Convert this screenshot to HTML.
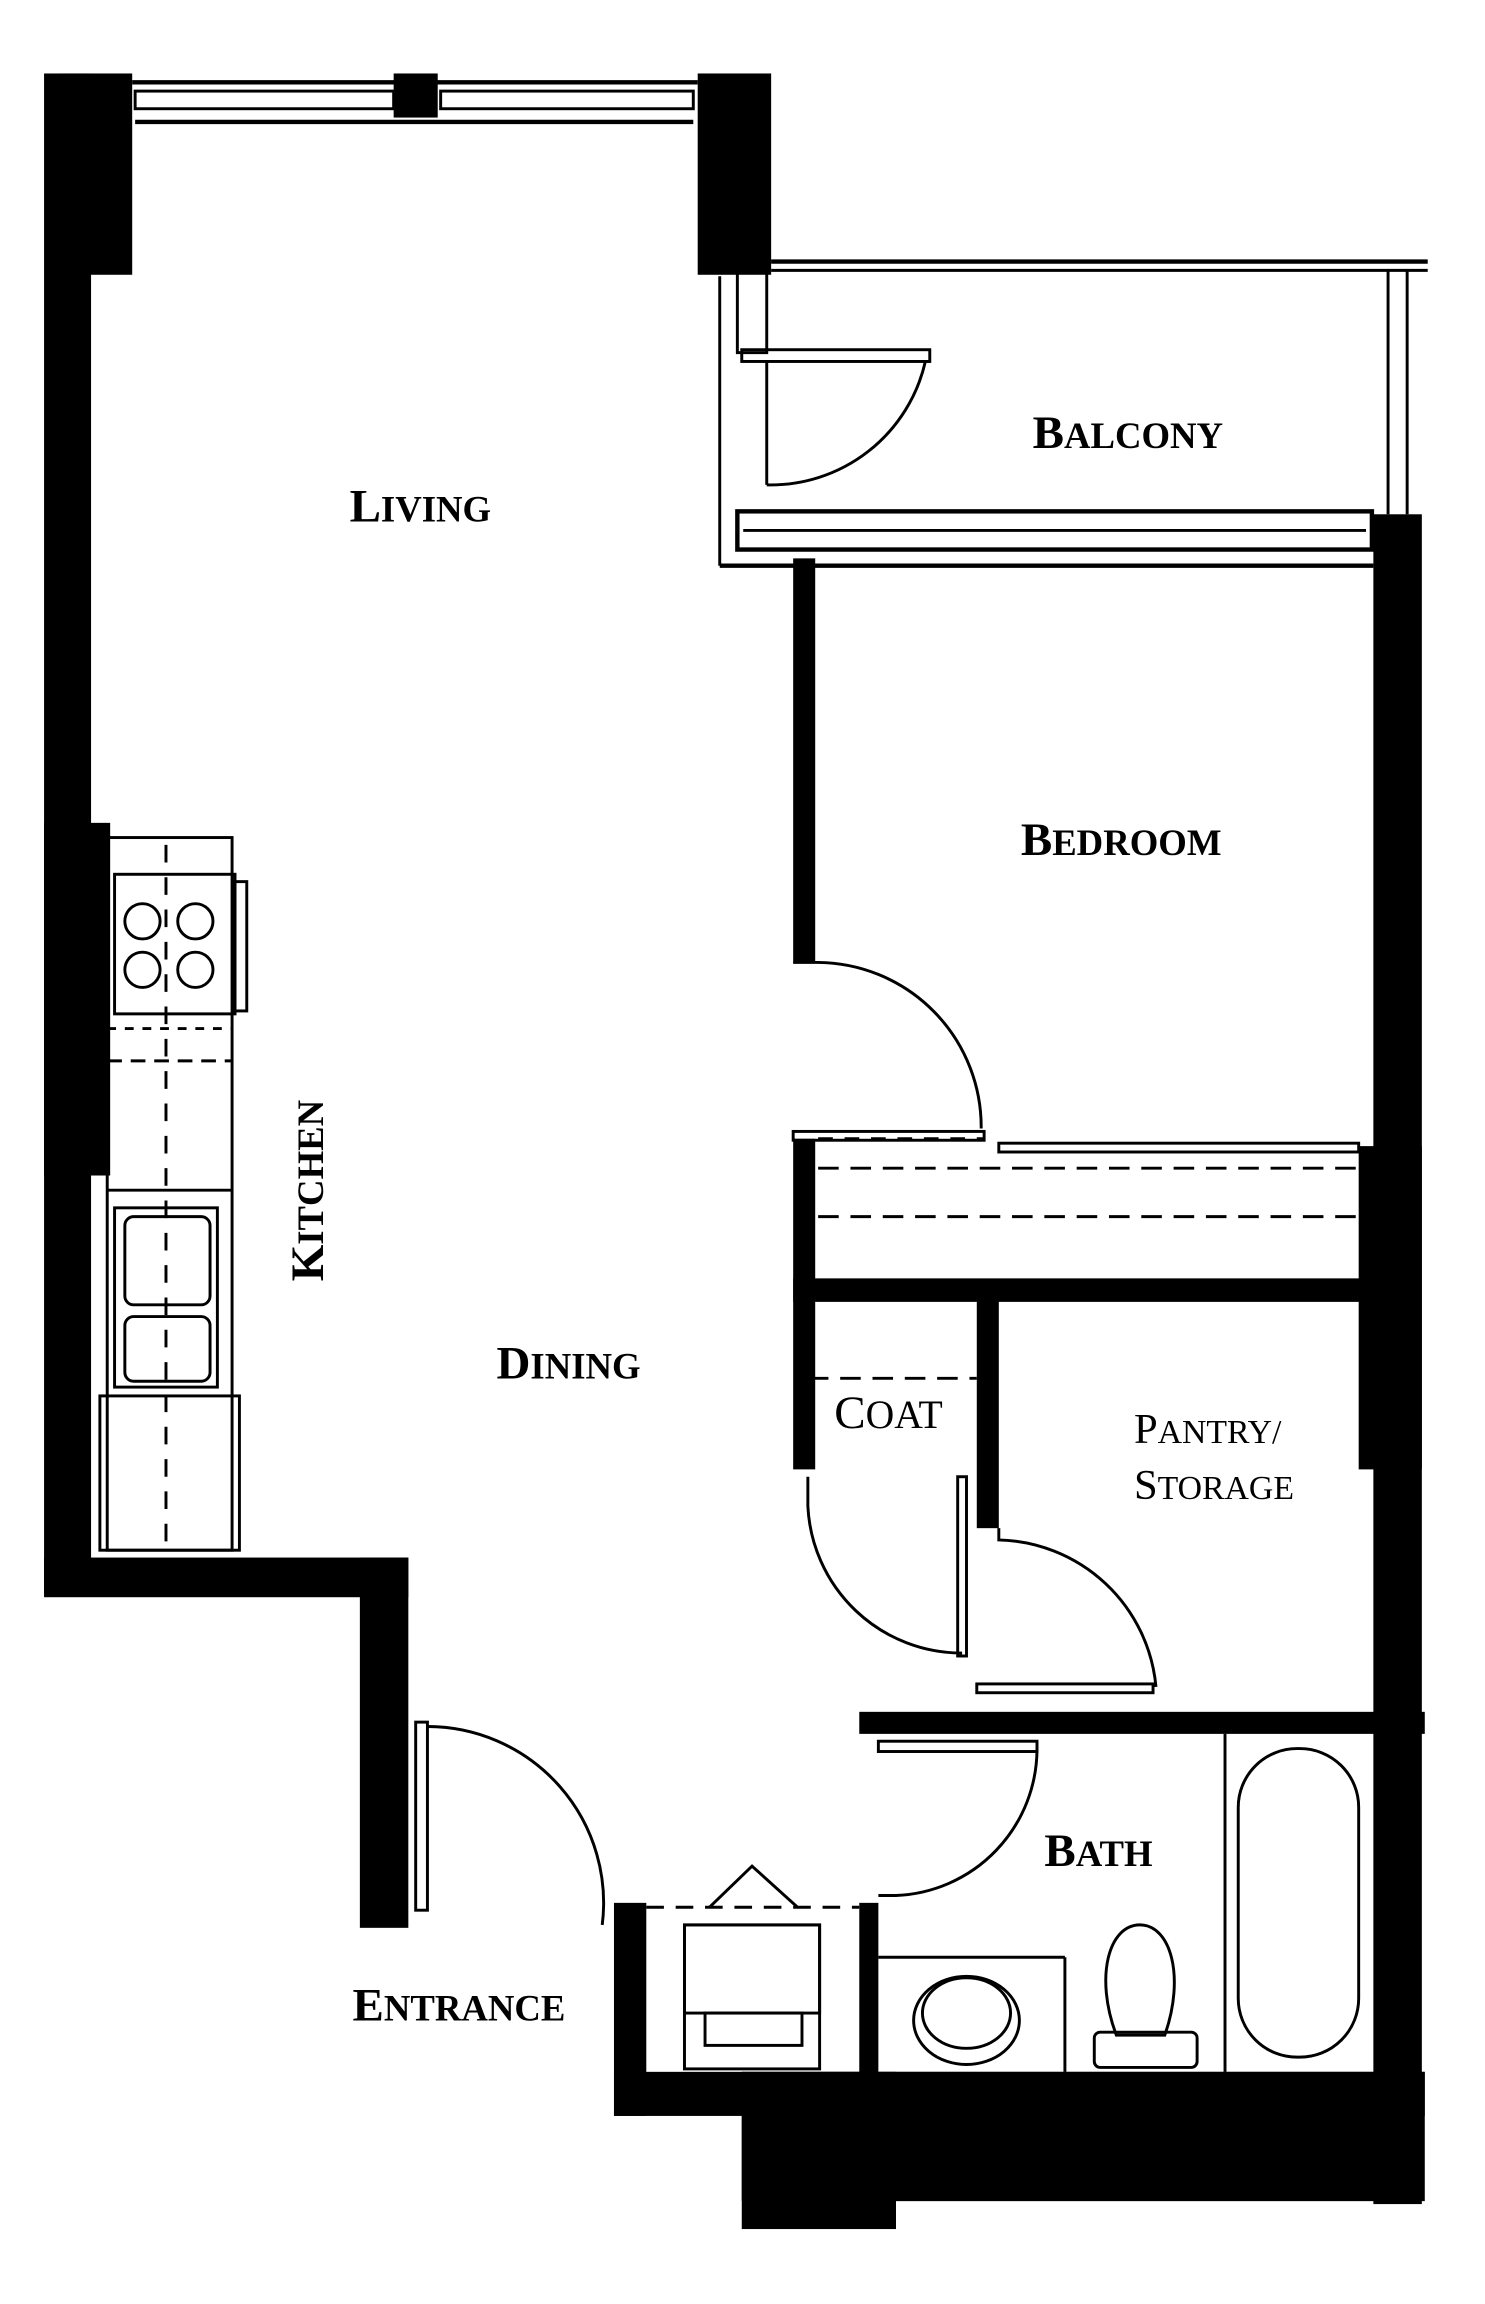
<!DOCTYPE html>
<html><head><meta charset="utf-8"><style>
html,body{margin:0;padding:0;background:#fff;}
svg{display:block;}
text{font-family:"Liberation Serif",serif;font-weight:bold;fill:#000;}
</style></head><body>
<svg width="1485" height="2304" viewBox="0 0 1011 1568" preserveAspectRatio="none" xmlns="http://www.w3.org/2000/svg">
<rect width="1024" height="1589" fill="#fff"/>
<g fill="#000">
<rect x="40" y="50" width="50" height="137"/>
<rect x="30" y="50" width="32" height="1035"/>
<rect x="30" y="560" width="45" height="240"/>
<rect x="268" y="50" width="30" height="30"/>
<rect x="475" y="50" width="50" height="137"/>
<rect x="30" y="1060" width="248" height="27"/>
<rect x="245" y="1060" width="33" height="252"/>
<rect x="418" y="1295" width="22" height="145"/>
<rect x="418" y="1410" width="552" height="30"/>
<rect x="505" y="1410" width="465" height="88"/>
<rect x="505" y="1410" width="105" height="107"/>
<rect x="935" y="350" width="33" height="1150"/>
<rect x="925" y="780" width="43" height="220"/>
<rect x="540" y="380" width="15" height="275"/>
<rect x="540" y="870" width="395" height="16"/>
<rect x="540" y="775" width="15" height="225"/>
<rect x="665" y="885" width="15" height="155"/>
<rect x="585" y="1165" width="385" height="15"/>
<rect x="585" y="1295" width="13" height="120"/>
</g>
<g fill="none" stroke="#000" stroke-width="2">
<line x1="90" y1="56" x2="475" y2="56" stroke-width="3"/>
<rect x="92" y="62" width="176" height="12"/>
<rect x="300" y="62" width="172" height="12"/>
<line x1="92" y1="83" x2="472" y2="83" stroke-width="3"/>
<line x1="32" y1="55" x2="32" y2="75"/>
<line x1="525" y1="178" x2="972" y2="178" stroke-width="3"/>
<line x1="525" y1="184" x2="972" y2="184"/>
<line x1="945" y1="184" x2="945" y2="350"/>
<line x1="958" y1="184" x2="958" y2="350"/>
<rect x="502" y="180" width="20" height="60"/>
<rect x="505" y="238" width="128" height="8"/>
<path d="M522 246 L522 330"/>
<path d="M630 246 A108 108 0 0 1 522 330"/>
<line x1="490" y1="188" x2="490" y2="385"/>
<rect x="502" y="348" width="432" height="26" stroke-width="3"/>
<line x1="506" y1="361" x2="930" y2="361"/>
<line x1="490" y1="385" x2="935" y2="385" stroke-width="3"/>
<path d="M540 655 L557 655 A112 112 0 0 1 668 768"/>
<rect x="540" y="770" width="130" height="6"/>
<rect x="680" y="778" width="245" height="6"/>
<path d="M557 795 L925 795" stroke-dasharray="14 8"/>
<path d="M557 828 L925 828" stroke-dasharray="14 8"/>
<path d="M557 775 L670 775" stroke-dasharray="10 8"/>
<path d="M550 938 L665 938" stroke-dasharray="14 8"/>
<path d="M550 1005 L550 1025 A105 105 0 0 0 655 1125"/>
<rect x="652" y="1005" width="6" height="122"/>
<path d="M680 1040 L680 1048 A110 110 0 0 1 787 1148"/>
<rect x="665" y="1146" width="120" height="6"/>
<rect x="73" y="570" width="85" height="485"/>
<rect x="78" y="595" width="82" height="95"/>
<rect x="160" y="600" width="8" height="88"/>
<circle cx="97" cy="627" r="12"/><circle cx="133" cy="627" r="12"/>
<circle cx="97" cy="660" r="12"/><circle cx="133" cy="660" r="12"/>
<line x1="73" y1="722" x2="158" y2="722" stroke-dasharray="10 6"/>
<line x1="73" y1="810" x2="158" y2="810"/>
<line x1="113" y1="575" x2="113" y2="1055" stroke-dasharray="12 10"/>
<line x1="73" y1="700" x2="158" y2="700" stroke-dasharray="6 6"/>
<rect x="78" y="822" width="70" height="122"/>
<rect x="85" y="828" width="58" height="60" rx="6"/>
<rect x="85" y="896" width="58" height="44" rx="6"/>
<rect x="68" y="950" width="95" height="105"/>
<rect x="283" y="1172" width="8" height="128"/>
<path d="M291 1175 A120 120 0 0 1 410 1310"/>
<rect x="598" y="1185" width="108" height="7"/>
<path d="M706 1190 A100 100 0 0 1 610 1290 L598 1290"/>
<path d="M440 1298 L585 1298" stroke-dasharray="12 8"/>
<path d="M483 1298 L512 1270 L543 1298"/>
<rect x="466" y="1310" width="92" height="98"/>
<rect x="466" y="1310" width="92" height="60"/>
<rect x="480" y="1370" width="66" height="22"/>
<line x1="598" y1="1332" x2="725" y2="1332"/>
<line x1="725" y1="1332" x2="725" y2="1410"/>
<ellipse cx="658" cy="1375" rx="36" ry="30"/>
<ellipse cx="658" cy="1370" rx="30" ry="24"/>
<path d="M760 1385 C745 1345 755 1310 776 1310 C797 1310 807 1345 793 1385 Z"/>
<rect x="745" y="1383" width="70" height="24" rx="4"/>
<line x1="834" y1="1180" x2="834" y2="1410"/>
<rect x="843" y="1190" width="82" height="210" rx="40"/>
</g>
<g>
<text x="238" y="355" font-size="32">L<tspan font-size="25">IVING</tspan></text>
<text x="703" y="305" font-size="32">B<tspan font-size="25">ALCONY</tspan></text>
<text x="695" y="582" font-size="32">B<tspan font-size="25">EDROOM</tspan></text>
<text x="338" y="938" font-size="32">D<tspan font-size="25">INING</tspan></text>
<text x="568" y="972" font-size="32" style="font-weight:normal">C<tspan font-size="27">OAT</tspan></text>
<text x="772" y="982" font-size="29" style="font-weight:normal">P<tspan font-size="23">ANTRY/</tspan></text>
<text x="772" y="1020" font-size="29" style="font-weight:normal">S<tspan font-size="23">TORAGE</tspan></text>
<text x="711" y="1270" font-size="32">B<tspan font-size="25">ATH</tspan></text>
<text x="240" y="1375" font-size="32">E<tspan font-size="25">NTRANCE</tspan></text>
<text transform="translate(220,872) rotate(-90)" font-size="32">K<tspan font-size="25">ITCHEN</tspan></text>
</g>
</svg>
</body></html>
